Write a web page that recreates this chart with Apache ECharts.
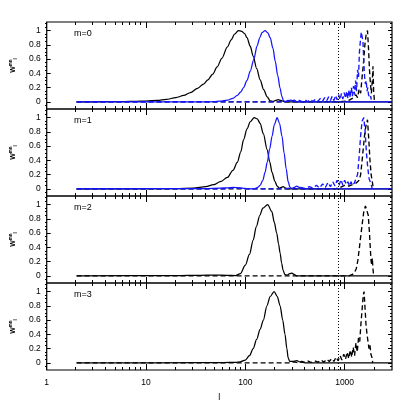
<!DOCTYPE html>
<html>
<head>
<meta charset="utf-8">
<script src="https://cdn.jsdelivr.net/npm/echarts@6/dist/echarts.min.js"></script>
<style>
html,body{margin:0;padding:0;background:#fff}
#chart{width:415px;height:415px}
</style>
</head>
<body>
<div id="chart"></div>
<script>
// axes
const lRange = [1, 3000];
const wRange = [-0.1, 1.12];
const lMark = 870;
const xLabels = [1, 10, 100, 1000];
const xMinor = [2,3,4,5,6,7,8,9,20,30,40,50,60,70,80,90,200,300,400,500,600,700,800,900,2000];
const yLabels = [0, 0.2, 0.4, 0.6, 0.8, 1];
const yMinor = [-0.05,0.05,0.1,0.15,0.25,0.3,0.35,0.45,0.5,0.55,0.65,0.7,0.75,0.85,0.9,0.95,1.05,1.1];
const panelNames = ['m=0', 'm=1', 'm=2', 'm=3'];

// m=0
const m0SolidL = [2,4,6,8,10,13,16,20,24,28,33,38,42,47,52,58,66,72,78,85,92,98,104,112,120,130,141,153,166,178,190,202,214,228,245,270,3000];
const m0SolidW = [0,0.002,0.005,0.008,0.012,0.02,0.035,0.06,0.09,0.13,0.19,0.25,0.31,0.39,0.49,0.61,0.77,0.87,0.95,1.0,0.99,0.96,0.9,0.78,0.64,0.47,0.31,0.17,0.07,0.015,0.005,0.02,0.03,0.02,0.003,0,0];
const m0BlueL = [2,40,48,56,66,75,83,90,96,104,112,122,131,140,147,158,168,178,190,200,212,224,233,242,252,268,285,302,320,3000];
const m0BlueW = [0,0,0.003,0.01,0.025,0.05,0.09,0.14,0.2,0.3,0.43,0.6,0.78,0.9,0.97,1.0,0.97,0.9,0.75,0.57,0.37,0.19,0.08,0.02,0,0.01,0.025,0.015,0,0];
const m0BlueDashL = [2,250,270,290,310,330,350,375,400,425,450,480,510,540,570,600,630,660,690,720,750,780,810,840,870,900,930,960,990,1020,1050,1080,1110,1140,1170,1200,1230,1260,1290,1320,1350,1380,1410,1440,1470,1500,1530,1560,1590,1620,1650,1680,1710,1740,1770,1800,1830,1860,1900];
const m0BlueDashW = [0,0,0.02,0,0.025,0,0.02,0,0.03,0,0.035,0.005,0.04,0.01,0.05,0.01,0.06,0.015,0.07,0.02,0.08,0.02,0.09,0.03,0.1,0.03,0.12,0.04,0.13,0.05,0.15,0.05,0.17,0.06,0.2,0.08,0.22,0.1,0.3,0.15,0.45,0.35,0.7,0.85,0.98,1.0,0.85,0.55,0.35,0.25,0.3,0.15,0.2,0.1,0.12,0.05,0.08,0.02,0];
const m0DashL = [2,900,1000,1100,1200,1250,1300,1350,1400,1450,1500,1550,1600,1650,1700,1740,1780,1820,1860,1900,1930,1960,2000];
const m0DashW = [0,0,0.01,0.02,0.05,0.03,0.1,0.06,0.18,0.12,0.35,0.55,0.8,0.95,1.0,0.75,0.45,0.25,0.12,0.3,0.5,0.15,0];

// m=1
const m1SolidL = [2,20,30,40,48,56,66,75,83,90,96,104,112,123,132,141,152,166,176,186,198,209,220,230,240,252,265,3000];
const m1SolidW = [0,0.002,0.01,0.03,0.06,0.1,0.16,0.26,0.37,0.52,0.69,0.84,0.94,1.0,0.98,0.92,0.77,0.55,0.38,0.23,0.11,0.04,0.01,0.02,0.03,0.015,0,0];
const m1BlueL = [2,40,55,66,76,86,100,115,125,133,141,150,158,166,176,186,196,209,221,234,246,258,270,282,295,310,330,350,370,3000];
const m1BlueW = [0,0.003,0.01,0.015,0.02,0.015,0.005,0,0.005,0.02,0.05,0.12,0.23,0.37,0.56,0.74,0.9,1.0,0.92,0.74,0.5,0.28,0.1,0.02,0.005,0.02,0.04,0.02,0,0];
const m1BlueDashL = [2,60,75,90,110,250,280,320,360,400,440,480,520,560,600,640,680,720,760,800,840,880,920,960,1000,1040,1080,1120,1160,1200,1250,1300,1350,1400,1450,1500,1560,1610,1660,1710,1760,1810,1860,1900];
const m1BlueDashW = [0,0,0.015,0.01,0,0,0.01,0,0.02,0.005,0.03,0.01,0.05,0.01,0.07,0.02,0.09,0.03,0.1,0.04,0.12,0.05,0.13,0.05,0.12,0.06,0.1,0.04,0.1,0.05,0.08,0.1,0.2,0.45,0.75,0.95,1.0,0.8,0.5,0.3,0.15,0.1,0.05,0];
const m1DashL = [2,800,900,1000,1100,1200,1300,1350,1400,1450,1500,1550,1600,1650,1700,1750,1800,1850,1900,1950];
const m1DashW = [0,0,0.02,0.05,0.04,0.06,0.08,0.06,0.12,0.2,0.4,0.6,0.8,0.9,0.97,0.7,0.4,0.2,0.1,0];

// m=2
const m2SolidL = [2,20,35,50,65,80,89,100,110,120,129,140,150,168,185,196,207,216,224,232,240,250,262,280,295,310,330,3000];
const m2SolidW = [0,0.003,0.008,0.012,0.008,0.005,0.03,0.15,0.3,0.5,0.69,0.85,0.95,1.0,0.9,0.75,0.6,0.45,0.32,0.18,0.08,0.02,0.01,0.03,0.04,0.02,0,0];
const m2DashL = [2,1100,1200,1260,1310,1360,1410,1460,1510,1560,1620,1680,1730,1780,1820,1850,1880,1900,1930,1960];
const m2DashW = [0,0,0.02,0.05,0.1,0.22,0.4,0.58,0.75,0.9,0.98,1.0,0.85,0.6,0.35,0.2,0.15,0.25,0.1,0];

// m=3
const m3SolidL = [2,40,60,80,89,100,110,120,130,141,152,165,178,195,210,224,238,251,262,270,280,300,330,360,400,3000];
const m3SolidW = [0,0.002,0.005,0.008,0.015,0.04,0.1,0.2,0.33,0.47,0.6,0.8,0.93,1.0,0.93,0.8,0.6,0.4,0.2,0.07,0.02,0.02,0.03,0.01,0,0];
const m3DashL = [2,280,310,340,370,400,430,460,500,540,580,620,660,700,740,780,820,860,900,940,980,1020,1060,1100,1140,1180,1220,1260,1300,1340,1380,1420,1460,1500,1540,1570,1600,1640,1680,1720,1760,1800,1840,1880,1920];
const m3DashW = [0,0,0.015,0,0.02,0.005,0.025,0.005,0.03,0.01,0.04,0.01,0.05,0.02,0.06,0.02,0.08,0.03,0.1,0.04,0.12,0.05,0.15,0.06,0.18,0.08,0.22,0.1,0.28,0.15,0.35,0.3,0.55,0.75,0.95,1.0,0.8,0.55,0.4,0.3,0.2,0.25,0.12,0.08,0];

const BLACK = '#000';
const BLUE = '#1414ff';
const font = 'Liberation Sans, Arial, sans-serif';

const panels = [
  [[m0DashL, m0DashW, BLACK, true], [m0SolidL, m0SolidW, BLACK, false], [m0BlueDashL, m0BlueDashW, BLUE, true], [m0BlueL, m0BlueW, BLUE, false]],
  [[m1DashL, m1DashW, BLACK, true], [m1SolidL, m1SolidW, BLACK, false], [m1BlueDashL, m1BlueDashW, BLUE, true], [m1BlueL, m1BlueW, BLUE, false]],
  [[m2DashL, m2DashW, BLACK, true], [m2SolidL, m2SolidW, BLACK, false]],
  [[m3DashL, m3DashW, BLACK, true], [m3SolidL, m3SolidW, BLACK, false]]
];

const grids = [], xAxes = [], yAxes = [], series = [], titles = [];
const top0 = 22, h = 87;

function xAx(grid, pos, ticks, len, labels, name) {
  return {
    type: 'log', logBase: 10, gridIndex: grid, position: pos,
    min: lRange[0], max: lRange[1],
    axisLine: {show: false, onZero: false},
    axisTick: {show: true, inside: true, length: len, customValues: ticks, lineStyle: {color: '#000', width: 1}},
    axisLabel: labels ? {show: true, customValues: ticks, margin: 8, color: '#000', fontSize: 8.5, fontFamily: font, formatter: v => String(v)} : {show: false},
    splitLine: {show: false}, minorTick: {show: false},
    name: name || '', nameLocation: 'middle', nameGap: 23,
    nameTextStyle: {color: '#000', fontSize: 9, fontFamily: font}
  };
}
function yAx(grid, pos, ticks, len, labels, name) {
  return {
    type: 'value', gridIndex: grid, position: pos,
    min: wRange[0], max: wRange[1],
    axisLine: {show: false, onZero: false},
    axisTick: {show: true, inside: true, length: len, customValues: ticks, lineStyle: {color: '#000', width: 1}},
    axisLabel: labels ? {show: true, customValues: ticks, margin: 6, color: '#000', fontSize: 8.5, fontFamily: font, formatter: v => String(v)} : {show: false},
    splitLine: {show: false},
    name: name ? '{w|W}{s|mn}{b|l}' : '', nameLocation: 'middle', nameGap: 27, nameRotate: 90,
    nameTextStyle: {
      color: '#000', fontFamily: font,
      rich: {
        w: {fontSize: 7, fontWeight: 'bold', fontFamily: font, lineHeight: 10, verticalAlign: 'middle'},
        s: {fontSize: 4.5, fontWeight: 'bold', fontFamily: font, verticalAlign: 'top'},
        b: {fontSize: 4.5, fontWeight: 'bold', fontFamily: font, verticalAlign: 'bottom'}
      }
    }
  };
}

panels.forEach((lines, i) => {
  const top = top0 + i * h;
  const last = i === panels.length - 1;
  grids.push({left: 45, right: 23, top: top, height: h, show: true, borderColor: '#000', borderWidth: 1.2, backgroundColor: 'transparent'});
  grids.push({left: 45, right: 23, top: top, height: h, show: false});
  const gA = 2 * i, gB = 2 * i + 1;
  xAxes.push(xAx(gA, 'bottom', xLabels, 6, last, last ? 'l' : ''));
  xAxes.push(xAx(gA, 'top', xLabels, 6, false));
  xAxes.push(xAx(gB, 'bottom', xMinor, 3, false));
  xAxes.push(xAx(gB, 'top', xMinor, 3, false));
  yAxes.push(yAx(gA, 'left', yLabels, 4, true, true));
  yAxes.push(yAx(gA, 'right', yLabels, 4, false));
  yAxes.push(yAx(gB, 'left', yMinor, 2, false));
  yAxes.push(yAx(gB, 'right', yMinor, 2, false));
  const xi = 4 * i, yi = 4 * i;
  lines.forEach(([L, W, color, dashed], k) => {
    const s = {
      type: 'line', xAxisIndex: xi, yAxisIndex: yi,
      data: L.map((l, j) => [l, W[j]]),
      showSymbol: false, symbol: 'none',
      smooth: dashed ? false : 0.3, smoothMonotone: 'x',
      lineStyle: {color: color, width: dashed ? 1.35 : 1.25, type: dashed ? [5, 3] : 'solid'},
      itemStyle: {color: color},
      silent: true
    };
    if (k === 0) {
      s.markLine = {
        silent: true, symbol: ['none', 'none'], label: {show: false},
        lineStyle: {type: [1, 2], color: '#000', width: 1},
        data: [{xAxis: lMark}]
      };
    }
    series.push(s);
  });
  titles.push({text: panelNames[i], left: 74, top: top + 7, padding: 0,
    textStyle: {fontSize: 9, fontWeight: 'normal', color: '#000', fontFamily: font}});
});

const chart = echarts.init(document.getElementById('chart'), null, {renderer: 'canvas'});
chart.setOption({
  animation: false,
  backgroundColor: '#fff',
  title: titles,
  grid: grids,
  xAxis: xAxes,
  yAxis: yAxes,
  series: series
});
</script>
</body>
</html>
